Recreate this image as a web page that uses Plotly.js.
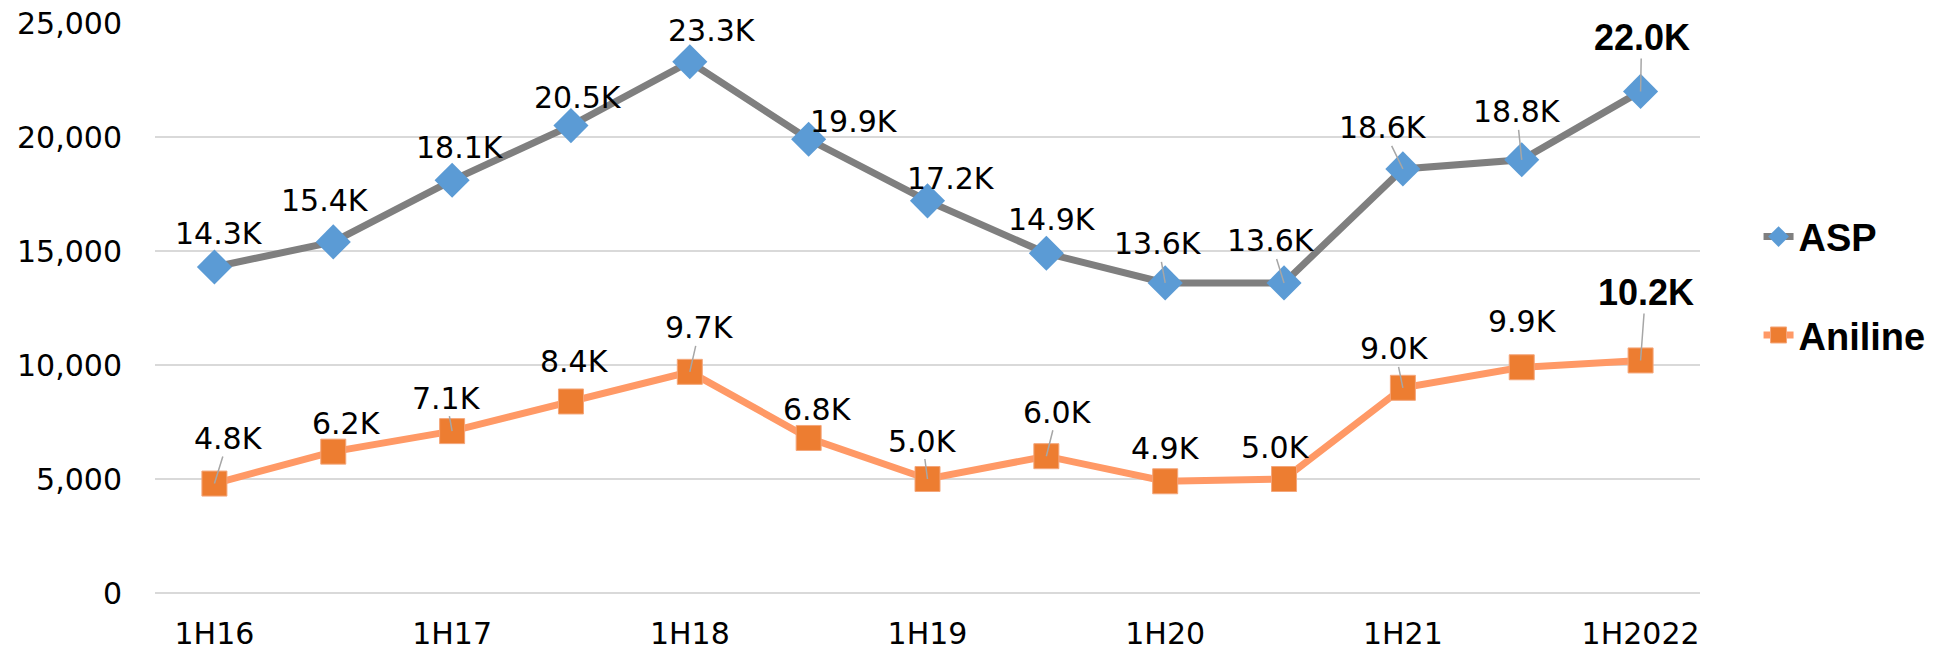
<!DOCTYPE html>
<html>
<head>
<meta charset="utf-8">
<script src="https://cdn.plot.ly/plotly-3.0.1.min.js"></script>
<style>
  html, body { margin: 0; padding: 0; background: #ffffff; }
  #chart { width: 1941px; height: 652px; }
</style>
</head>
<body>
<div id="chart"></div>
<script>
// ---- data ----
const categories = ['1H16','2H16','1H17','2H17','1H18','2H18','1H19','2H19','1H20','2H20','1H21','2H21','1H2022'];
const xTickLabels = ['1H16','1H17','1H18','1H19','1H20','1H21','1H2022'];
const aspValues = [14300,15400,18100,20500,23300,19900,17200,14900,13600,13600,18600,19000,22000];
const aspLabels = ['14.3K','15.4K','18.1K','20.5K','23.3K','19.9K','17.2K','14.9K','13.6K','13.6K','18.6K','18.8K','22.0K'];
const anilineValues = [4800,6200,7100,8400,9700,6800,5000,6000,4900,5000,9000,9900,10200];
const anilineLabels = ['4.8K','6.2K','7.1K','8.4K','9.7K','6.8K','5.0K','6.0K','4.9K','5.0K','9.0K','9.9K','10.2K'];
const yTickValues = [0,5000,10000,15000,20000,25000];

// ---- label placement (style) ----
const aspOffsets = [[5,-33],[-8,-41],[8,-33],[7,-28],[22,-31],[45,-18],[23,-22],[6,-34],[-7,-39],[-13,-42],[-20,-41],[-5,-48],[1,-54]];
const aspLeaders = [8,9,10,11,12];
const anilineOffsets = [[14,-45],[13,-28],[-6,-33],[4,-40],[10,-44],[9,-28],[-5,-38],[11,-44],[0,-33],[-9,-32],[-8,-39],[1,-46],[5,-68]];
const anilineLeaders = [0,2,4,6,7,10,12];

const textFamily = 'DejaVu Sans, sans-serif';
const labelFont = {family: textFamily, size: 30, color: '#000000'};
const boldFont = {family: 'Liberation Sans, Arial, sans-serif', size: 36, color: '#000000', weight: 'bold'};

function makeAnnotations(values, labels, offsets, leaders) {
  return values.map((v, i) => {
    const last = i === values.length - 1;
    const hasLeader = leaders.indexOf(i) >= 0;
    return {
      x: categories[i], y: v, xref: 'x', yref: 'y',
      text: last ? '<b>' + labels[i] + '</b>' : labels[i],
      font: last ? boldFont : labelFont,
      showarrow: true, arrowhead: 0, arrowwidth: 1.5, standoff: 0,
      arrowcolor: hasLeader ? '#A6A6A6' : 'rgba(0,0,0,0)',
      ax: offsets[i][0], ay: offsets[i][1], borderpad: 0
    };
  });
}

const traces = [
  {
    x: categories, y: aspValues, name: 'ASP', type: 'scatter', mode: 'lines+markers',
    legendgroup: 'asp',
    line: {color: '#7F7F7F', width: 7},
    marker: {symbol: 'diamond', color: '#5B9BD5', size: 27, line: {width: 0}},
    hoverinfo: 'skip'
  },
  {
    x: categories, y: anilineValues, name: 'Aniline', type: 'scatter', mode: 'lines+markers',
    legendgroup: 'ani',
    line: {color: '#FF9966', width: 7},
    marker: {symbol: 'square', color: '#ED7D31', size: 25, line: {width: 1, color: '#F4A67A'}},
    hoverinfo: 'skip'
  }
];

const layout = {
  width: 1941, height: 652,
  paper_bgcolor: '#ffffff', plot_bgcolor: '#ffffff',
  margin: {l: 155, r: 241, t: 23, b: 59, pad: 0},
  showlegend: true,
  legend: {
    xref: 'container', yref: 'container',
    x: 0.906, y: 0.685, xanchor: 'left', yanchor: 'top',
    font: {family: 'Liberation Sans, Arial, sans-serif', size: 38, color: '#000000', weight: 'bold'},
    traceorder: 'grouped', tracegroupgap: 46,
    bgcolor: 'rgba(0,0,0,0)'
  },
  xaxis: {
    type: 'category', range: [-0.5, categories.length - 0.5],
    tickmode: 'array', tickvals: xTickLabels, ticktext: xTickLabels,
    showgrid: false, zeroline: false, showline: false, ticks: '',
    ticklabelstandoff: 20,
    tickfont: {family: textFamily, size: 30, color: '#000000'}
  },
  yaxis: {
    range: [0, 25000], tickmode: 'array', tickvals: yTickValues,
    tickformat: ',d',
    showgrid: true, gridcolor: '#D9D9D9', gridwidth: 2,
    zeroline: true, zerolinecolor: '#D9D9D9', zerolinewidth: 2,
    showline: false, ticks: '', ticklabelstandoff: 32,
    tickfont: {family: textFamily, size: 30, color: '#000000'}
  },
  annotations: makeAnnotations(aspValues, aspLabels, aspOffsets, aspLeaders)
    .concat(makeAnnotations(anilineValues, anilineLabels, anilineOffsets, anilineLeaders))
};

Plotly.newPlot('chart', traces, layout, {displayModeBar: false, staticPlot: true});
</script>
</body>
</html>
